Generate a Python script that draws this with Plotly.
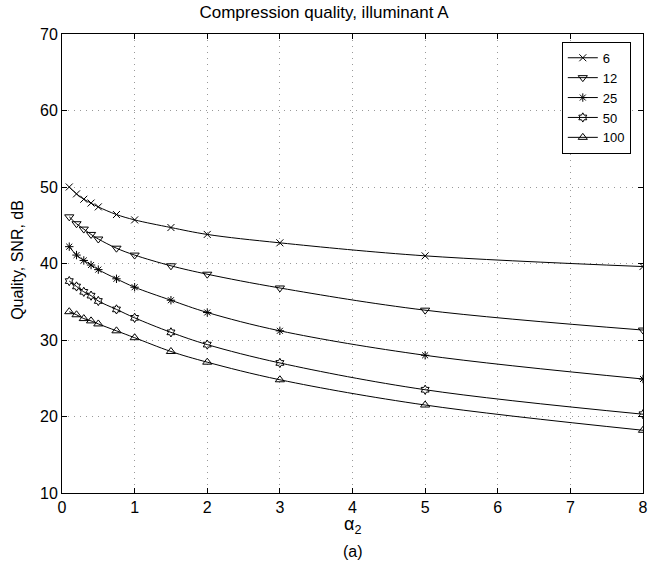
import plotly.graph_objects as go

# 压缩参数 alpha_2
alpha2 = [0.1, 0.2, 0.3, 0.4, 0.5, 0.75, 1, 1.5, 2, 3, 5, 8]

# 各压缩比下的 SNR (dB)
q6 = [50.0, 49.1, 48.4, 47.9, 47.4, 46.4, 45.7, 44.7, 43.8, 42.7, 41.0, 39.6]
q12 = [46.1, 45.2, 44.5, 43.8, 43.2, 42.0, 41.1, 39.7, 38.6, 36.8, 33.9, 31.3]
q25 = [42.2, 41.1, 40.4, 39.8, 39.2, 38.0, 36.9, 35.2, 33.6, 31.2, 28.0, 24.9]
q50 = [37.7, 37.0, 36.3, 35.8, 35.1, 34.0, 32.9, 31.0, 29.4, 27.0, 23.5, 20.3]
q100 = [33.7, 33.3, 32.8, 32.5, 32.1, 31.2, 30.3, 28.5, 27.1, 24.8, 21.5, 18.2]

series = [
    ("6", q6, "x-thin-open", 7),
    ("12", q12, "triangle-down-open", 8),
    ("25", q25, "asterisk-open", 7),
    ("50", q50, "hexagram-open", 7),
    ("100", q100, "triangle-up-open", 8),
]

FONT = "Liberation Sans, Arial, Helvetica, sans-serif"

fig = go.Figure()
for name, ys, sym, sz in series:
    fig.add_trace(go.Scatter(
        x=alpha2, y=ys, name=name, mode="lines+markers",
        line=dict(color="black", width=1, shape="spline"),
        marker=dict(symbol=sym, size=sz, color="black",
                    line=dict(color="black", width=1)),
    ))

axis_common = dict(
    showline=True, linecolor="black", linewidth=1, mirror="ticks",
    ticks="inside", ticklen=5, tickcolor="black", automargin=False,
    showgrid=True, gridcolor="#999999", griddash="1px,5px", gridwidth=1,
    zeroline=False, tickfont=dict(size=16, color="black", family=FONT),
)

fig.update_xaxes(range=[0, 8], dtick=1, **axis_common)
fig.update_yaxes(range=[10, 70], dtick=10, **axis_common)

fig.update_layout(
    width=657, height=565,
    margin=dict(l=62, r=14, t=34, b=72),
    plot_bgcolor="white", paper_bgcolor="white",
    font=dict(family=FONT, color="black"),
    title=dict(text="Compression quality, illuminant A", xref="container", x=324 / 657,
               xanchor="center", y=1 - 12 / 565, yanchor="middle",
               font=dict(size=17, color="black")),
    legend=dict(x=0.979, y=0.983, xanchor="right", yanchor="top",
                bordercolor="black", borderwidth=1, bgcolor="white",
                font=dict(size=13, color="black"), tracegroupgap=0,
                itemwidth=30),
    showlegend=True,
    annotations=[
        dict(text="α<sub>2</sub>", xref="paper", yref="paper", x=0.5, y=-0.07,
             xanchor="center", yanchor="middle", showarrow=False,
             font=dict(size=18, color="black")),
        dict(text="(a)", xref="paper", yref="paper", x=0.5, y=-0.128,
             xanchor="center", yanchor="middle", showarrow=False,
             font=dict(size=16, color="black")),
        dict(text="Quality, SNR, dB", xref="paper", yref="paper", x=-0.0757, y=0.508,
             xanchor="center", yanchor="middle", textangle=-90, showarrow=False,
             font=dict(size=16, color="black")),
    ],
)

fig.write_html("out.html", config={"displayModeBar": False},
               post_script="document.body.style.margin='0';")
